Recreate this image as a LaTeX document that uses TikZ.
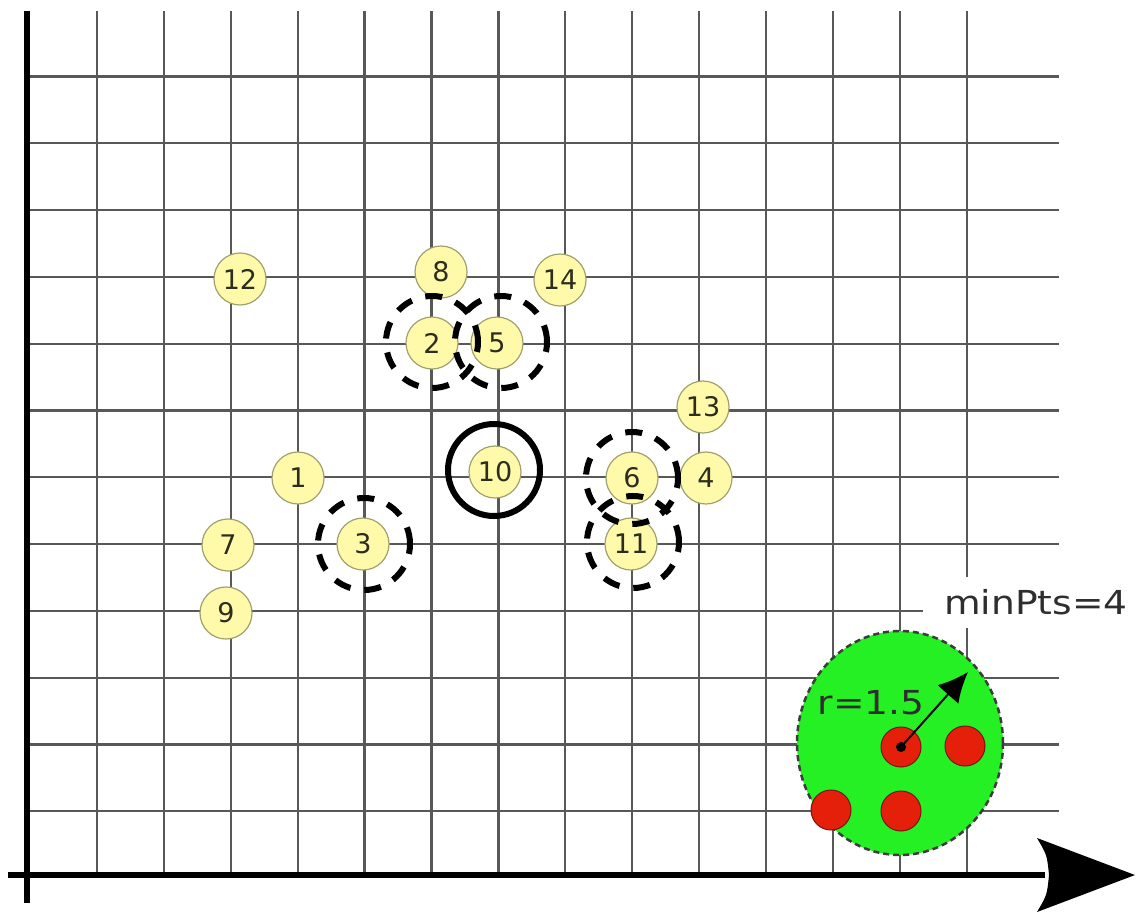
\documentclass[tikz,border=0pt]{standalone}
\usepackage{fontspec}
\setmainfont{DejaVu Sans}
\usetikzlibrary{arrows.meta,shapes.geometric}
\definecolor{gridc}{RGB}{88,88,88}
\definecolor{ptfill}{RGB}{255,250,170}
\definecolor{ptdraw}{RGB}{160,160,110}
\definecolor{pttext}{RGB}{45,45,30}
\definecolor{grn}{RGB}{36,240,36}
\definecolor{grnborder}{RGB}{60,60,60}
\definecolor{redpt}{RGB}{228,32,10}
\definecolor{redborder}{RGB}{120,20,10}
\begin{document}
\begin{tikzpicture}[x=1pt,y=-1pt,
  pt/.style={circle,fill=ptfill,draw=ptdraw,line width=1.2pt,minimum size=52pt,inner sep=0pt,
    font=\fontsize{27}{27}\selectfont,text=pttext},
  ring/.style={circle,draw=black,line width=6pt,dash pattern=on 17pt off 14pt,minimum size=92pt,inner sep=0pt},
  solidring/.style={circle,draw=black,line width=6pt,minimum size=92pt,inner sep=0pt},
  redp/.style={circle,fill=redpt,draw=redborder,line width=1pt,minimum size=40pt,inner sep=0pt},
  gridline/.style={draw=gridc,line width=2.3pt},
  axis/.style={draw=black,line width=6pt},
  lbl/.style={font=\fontsize{33}{33}\selectfont,text=black!82,xscale=1.14}
]
\useasboundingbox (0,0) rectangle (1145,914);
% grid
\foreach \i in {0,...,13}{
  \draw[gridline] ({97+66.9*\i},11) -- ({97+66.9*\i},875);
}
\foreach \j in {0,...,11}{
  \draw[gridline] (27,{76.5+66.8*\j}) -- (1059,{76.5+66.8*\j});
}
% label with white background
\fill[white] (923,577) rectangle (1145,628);
\node[lbl] (minpts) at (1036,602) {minPts=4};
% axes
\draw[axis] (27,903) -- (27,11);
\draw[axis] (8,875) -- (1045,875);
\fill[black] (1135,875) -- (1037,838) .. controls (1047,855) .. (1049,875) .. controls (1047,895) .. (1037,912) -- cycle;
% green neighbourhood
\node[ellipse,minimum width=206pt,minimum height=224pt,fill=grn,draw=grnborder,line width=2.5pt,dash pattern=on 6pt off 4pt,inner sep=0pt] (eps) at (900,743) {};
\node[redp] (rc) at (901,747) {};
\node[redp] (rr) at (965,746) {};
\node[redp] (rl) at (831,810) {};
\node[redp] (rb) at (901,811) {};
\fill[black] (rc.center) circle (5pt);
\coordinate (rtip) at (968,672);
\draw[line width=2pt,-{Latex[length=30pt,width=28pt]}] (rc.center) -- (rtip);
\node[lbl] (rlab) at (871,703) {r=1.5};
% points
\node[pt] (p12) at (240,279) {12};
\node[pt] (p8) at (441,272) {8};
\node[pt] (p14) at (560,280) {14};
\node[pt] (p2) at (432,343) {2};
\node[pt] (p5) at (497,343) {5};
\node[pt] (p13) at (703,407) {13};
\node[pt] (p1) at (298,478) {1};
\node[pt] (p10) at (495,472) {10};
\node[pt] (p6) at (632,478) {6};
\node[pt] (p4) at (706,478) {4};
\node[pt] (p7) at (228,545) {7};
\node[pt] (p3) at (363,544) {3};
\node[pt] (p11) at (631,544) {11};
\node[pt] (p9) at (226,613) {9};
% rings
\node[ring] (c2) at (432,342) {};
\node[ring] (c5) at (501,342) {};
\node[ring] (c3) at (364,544) {};
\node[ring] (c6) at (632,478) {};
\node[ring] (c11) at (633,542) {};
\node[solidring] (c10) at (494,470) {};
\end{tikzpicture}
\end{document}
